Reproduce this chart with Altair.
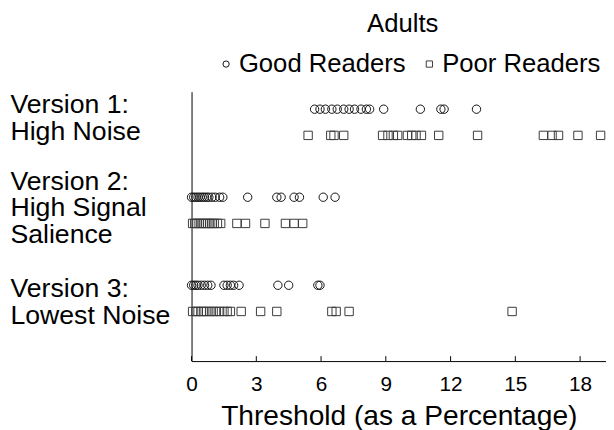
import altair as alt
import pandas as pd

versions = ["Version 1:\nHigh Noise", "Version 2:\nHigh Signal\nSalience", "Version 3:\nLowest Noise"]
groups = ["Good Readers", "Poor Readers"]

v1_good = [5.7, 5.95, 6.2, 6.5, 6.75, 7.05, 7.3, 7.55, 7.85, 8.1, 8.25, 8.9, 10.6, 11.55, 11.7, 13.2]
v1_poor = [5.4, 6.45, 6.6, 7.05, 8.85, 9.1, 9.35, 9.55, 10.0, 10.2, 10.4, 10.65, 11.45, 13.25,
           16.3, 16.7, 17.0, 17.9, 18.95]
v2_good = [0.0, 0.1, 0.2, 0.3, 0.4, 0.5, 0.6, 0.7, 0.8, 0.95, 1.1, 1.3, 1.45, 2.6, 3.95, 4.15,
           4.75, 5.0, 6.1, 6.65]
v2_poor = [0.05, 0.15, 0.25, 0.35, 0.45, 0.55, 0.65, 0.75, 0.85, 0.95, 1.05, 1.2, 1.35, 2.1, 2.5,
           3.4, 4.35, 4.75, 5.15]
v3_good = [0.0, 0.1, 0.2, 0.3, 0.45, 0.6, 0.75, 0.9, 1.5, 1.65, 1.8, 1.95, 2.2, 4.0, 4.5, 5.85, 5.95]
v3_poor = [0.05, 0.2, 0.3, 0.45, 0.55, 0.7, 0.85, 1.0, 1.15, 1.3, 1.5, 1.65, 1.8, 2.3, 3.2, 3.95,
           6.5, 6.7, 7.3, 14.85]

tick_values = [0, 3, 6, 9, 12, 15, 18]

rows = []
for v, g, vals in [
    (versions[0], groups[0], v1_good), (versions[0], groups[1], v1_poor),
    (versions[1], groups[0], v2_good), (versions[1], groups[1], v2_poor),
    (versions[2], groups[0], v3_good), (versions[2], groups[1], v3_poor),
]:
    for x in vals:
        rows.append({"version": v, "group": g, "threshold": x})
df = pd.DataFrame(rows)
ticks_df = pd.DataFrame({"threshold": tick_values})

FONT = "Liberation Sans"
W, H = 420, 273

xscale = alt.Scale(domain=[0, 19.2], nice=False, zero=False)

label_offset = {
    "condition": [
        {"test": "datum.value == 'Version 1:\\nHigh Noise'", "value": -17},
        {"test": "datum.value == 'Version 2:\\nHigh Signal\\nSalience'", "value": -29},
    ],
    "value": -9,
}

points = alt.Chart(df).mark_point(filled=False, size=72, strokeWidth=1, opacity=1).encode(
    x=alt.X("threshold:Q", scale=xscale,
            axis=alt.Axis(values=tick_values, ticks=False, grid=False, domainColor="black",
                          labelFontSize=21, labelColor="black", labelPadding=13, labelFont=FONT,
                          title="Threshold (as a Percentage)", titleFontSize=28.5,
                          titleFontWeight="normal", titleColor="black", titleFont=FONT,
                          titlePadding=7, format="d", labelFlush=False)),
    y=alt.Y("version:N", sort=versions,
            scale=alt.Scale(type="band", domain=versions, paddingInner=0.5, paddingOuter=0.28,
                            align=0.174),
            axis=alt.Axis(title=None, ticks=False, tickSize=0, grid=False, domainColor="black",
                          labelAlign="left", labelBaseline="middle", labelPadding=184,
                          labelFontSize=27, labelLineHeight=27, labelColor="black",
                          labelFont=FONT, labelLimit=0, labelOffset=label_offset,
                          labelExpr="split(datum.label, '\\n')")),
    yOffset=alt.YOffset("group:N", scale=alt.Scale(type="point", domain=groups, padding=0.34)),
    shape=alt.Shape("group:N", scale=alt.Scale(domain=groups, range=["circle", "square"]),
                    legend=alt.Legend(title=None, orient="none", legendX=22, legendY=-41,
                                      direction="horizontal", symbolSize=40,
                                      symbolStrokeColor="#222", symbolStrokeWidth=1,
                                      labelFontSize=26, labelFont=FONT, labelColor="black",
                                      labelOffset=0, columnPadding=10, labelLimit=0)),
    stroke=alt.Stroke("group:N", scale=alt.Scale(domain=groups, range=["#111111", "#3a3a3a"]),
                      legend=None),
)

tick_rules = alt.Chart(ticks_df).mark_rule(color="black", strokeWidth=1).encode(
    x=alt.X("threshold:Q", scale=xscale),
    y=alt.value(H - 5),
    y2=alt.value(H),
)

chart = alt.layer(points, tick_rules).properties(
    width=W, height=H,
    title=alt.TitleParams("Adults", fontSize=26, fontWeight="normal", font=FONT,
                          color="black", anchor="middle", offset=14, dx=4),
    autosize=alt.AutoSizeParams(type="none"),
    padding={"left": 186, "top": 82, "right": 0, "bottom": 67},
).configure_view(stroke=None)

chart.save("out.html", embed_options={"renderer": "svg", "actions": False})
